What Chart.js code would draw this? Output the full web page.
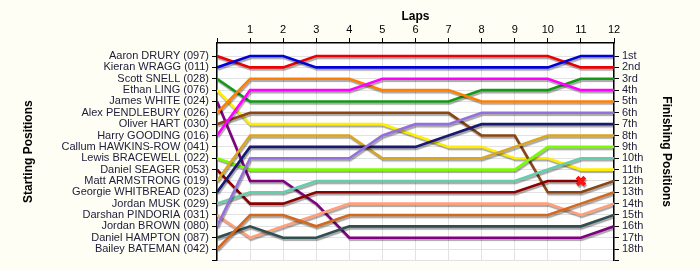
<!DOCTYPE html>
<html>
<head>
<meta charset="utf-8">
<script src="https://cdn.jsdelivr.net/npm/chart.js@4"></script>
<style>
  html, body { margin: 0; padding: 0; background: #fefef4; }
  #wrap { width: 700px; height: 270px; }
</style>
</head>
<body>
<div id="wrap"><canvas id="lapChart" width="700" height="270"></canvas></div>
<script>
// laps 0..12 (lap 0 = grid)
const laps = [0, 1, 2, 3, 4, 5, 6, 7, 8, 9, 10, 11, 12];

const startNames = [
    "Aaron DRURY (097)", "Kieran WRAGG (011)", "Scott SNELL (028)", "Ethan LING (076)",
    "James WHITE (024)", "Alex PENDLEBURY (026)", "Oliver HART (030)", "Harry GOODING (016)",
    "Callum HAWKINS-ROW (041)", "Lewis BRACEWELL (022)", "Daniel SEAGER (053)",
    "Matt ARMSTRONG (019)", "Georgie WHITBREAD (023)", "Jordan MUSK (029)",
    "Darshan PINDORIA (031)", "Jordan BROWN (080)", "Daniel HAMPTON (087)", "Bailey BATEMAN (042)"
];

const finishLabels = [
    "1st", "2nd", "3rd", "4th", "5th", "6th", "7th", "8th", "9th",
    "10th", "11th", "12th", "13th", "14th", "15th", "16th", "17th", "18th"
];

// position of each driver at the end of every lap
const drury      = [1, 2, 2, 1, 1, 1, 1, 1, 1, 1, 1, 2, 2];
const wragg      = [2, 1, 1, 2, 2, 2, 2, 2, 2, 2, 2, 1, 1];
const snell      = [3, 5, 5, 5, 5, 5, 5, 5, 4, 4, 4, 3, 3];
const ling       = [4, 7, 7, 7, 7, 7, 8, 9, 9, 10, 10, 11, 11];
const white      = [5, 12, 12, 14, 17, 17, 17, 17, 17, 17, 17, 17, 16];
const pendlebury = [6, 3, 3, 3, 3, 4, 4, 4, 5, 5, 5, 5, 5];
const hart       = [7, 6, 6, 6, 6, 6, 6, 6, 8, 8, 13, 13, 12];
const gooding    = [8, 4, 4, 4, 4, 3, 3, 3, 3, 3, 3, 4, 4];
const hawkinsRow = [];
const bracewell  = [10, 11, 11, 11, 11, 11, 11, 11, 11, 11, 9, 9, 9];
const seager     = [11, 14, 14, 13, 13, 13, 13, 13, 13, 13, 12, 12, null];
const armstrong  = [12, 8, 8, 8, 8, 10, 10, 10, 10, 9, 8, 8, 8];
const whitbread  = [13, 9, 9, 9, 9, 9, 9, 8, 7, 7, 7, 7, 7];
const musk       = [14, 13, 13, 12, 12, 12, 12, 12, 12, 12, 11, 10, 10];
const pindoria   = [15, 17, 16, 15, 14, 14, 14, 14, 14, 14, 14, 15, 14];
const brown      = [16, 10, 10, 10, 10, 8, 7, 7, 6, 6, 6, 6, 6];
const hampton    = [17, 16, 17, 17, 16, 16, 16, 16, 16, 16, 16, 16, 15];
const bateman    = [18, 15, 15, 16, 15, 15, 15, 15, 15, 15, 15, 14, 13];

const driverLaps = [drury, wragg, snell, ling, white, pendlebury, hart, gooding, hawkinsRow,
    bracewell, seager, armstrong, whitbread, musk, pindoria, brown, hampton, bateman];

const colours = ["#ee0000", "#0000dd", "#129a12", "#ffee00", "#800080", "#ff8000", "#8b4513",
    "#ff00ff", "#000000", "#7cfc00", "#8b0000", "#daa520", "#191970", "#66cdaa",
    "#ffa07a", "#9370db", "#2f4f4f", "#d2691e"];

// lap where a driver retired (index into startNames -> lap)
const retiredAt = { 10: 11 };

const fontFamily = "'Liberation Sans', Arial, sans-serif";
const labelColour = "#1c1c3c";

const datasets = driverLaps.map((positions, i) => {
    const retLap = retiredAt[i];
    return {
        label: startNames[i],
        data: positions.map((p, lap) => ({ x: laps[lap], y: p })),
        borderColor: colours[i],
        backgroundColor: colours[i],
        borderWidth: 2.6,
        tension: 0,
        spanGaps: false,
        pointStyle: 'crossRot',
        pointRadius: positions.map((p, lap) => lap === retLap ? 5.5 : 0),
        pointBorderColor: '#ff1010',
        pointBorderWidth: 4,
        pointHoverRadius: 0,
    };
}).reverse();

// white plot area + shadow under the lines
const plotStyle = {
    id: 'plotStyle',
    beforeDraw(chart) {
        const { ctx, chartArea: a } = chart;
        ctx.save();
        ctx.fillStyle = '#ffffff';
        ctx.fillRect(a.left, a.top, a.right - a.left, a.bottom - a.top);
        ctx.restore();
    },
    beforeDatasetsDraw(chart) {
        const ctx = chart.ctx;
        ctx.save();
        ctx.shadowColor = 'rgba(0,0,0,0.35)';
        ctx.shadowOffsetX = 1;
        ctx.shadowOffsetY = 2;
        ctx.shadowBlur = 1;
    },
    afterDatasetsDraw(chart) {
        chart.ctx.restore();
    }
};

const posTicks = (scale) => {
    const t = [];
    for (let v = 1; v <= 19; v++) t.push({ value: v });
    scale.ticks = t;
};

new Chart(document.getElementById('lapChart'), {
    type: 'line',
    data: { datasets: datasets },
    plugins: [plotStyle],
    options: {
        responsive: false,
        animation: false,
        layout: { padding: { left: 15, right: 20, top: 5, bottom: 9 } },
        plugins: { legend: { display: false }, tooltip: { enabled: false } },
        scales: {
            x: {
                type: 'linear',
                position: 'top',
                min: 0,
                max: 12,
                afterBuildTicks: (s) => { s.ticks = laps.map(v => ({ value: v })); },
                afterFit: (s) => { s.height = 38; },
                ticks: {
                    callback: (v) => v === 0 ? '' : v,
                    color: '#000',
                    padding: 1,
                    font: { family: fontFamily, size: 11 },
                    maxRotation: 0
                },
                grid: { color: '#e2e2e2', tickColor: '#000', tickLength: 5 },
                border: { color: '#000', width: 1.5 },
                title: {
                    display: true,
                    text: 'Laps',
                    color: '#000',
                    padding: { top: 4, bottom: 2 },
                    font: { family: fontFamily, size: 12, weight: 'bold' }
                }
            },
            y: {
                type: 'linear',
                position: 'left',
                reverse: true,
                min: -0.15,
                max: 19,
                afterBuildTicks: posTicks,
                afterFit: (s) => { s.width = 202; },
                ticks: {
                    callback: (v) => startNames[v - 1] || '',
                    color: labelColour,
                    padding: 3,
                    autoSkip: false,
                    font: { family: fontFamily, size: 11 }
                },
                grid: { color: '#e2e2e2', tickColor: '#000', tickLength: 5 },
                border: { color: '#000', width: 1.5 },
                title: {
                    display: true,
                    text: 'Starting Positions',
                    color: '#000',
                    padding: { top: 6, bottom: 2 },
                    font: { family: fontFamily, size: 12, weight: 'bold' }
                }
            },
            y2: {
                type: 'linear',
                position: 'right',
                reverse: true,
                min: -0.15,
                max: 19,
                afterBuildTicks: posTicks,
                afterFit: (s) => { s.width = 66; },
                ticks: {
                    callback: (v) => finishLabels[v - 1] || '',
                    color: labelColour,
                    padding: 3,
                    autoSkip: false,
                    font: { family: fontFamily, size: 11 }
                },
                grid: { drawOnChartArea: false, tickColor: '#000', tickLength: 5 },
                border: { color: '#000', width: 1.5 },
                title: {
                    display: true,
                    text: 'Finishing Positions',
                    color: '#000',
                    padding: { top: 6, bottom: 2 },
                    font: { family: fontFamily, size: 12, weight: 'bold' }
                }
            }
        }
    }
});
</script>
</body>
</html>
